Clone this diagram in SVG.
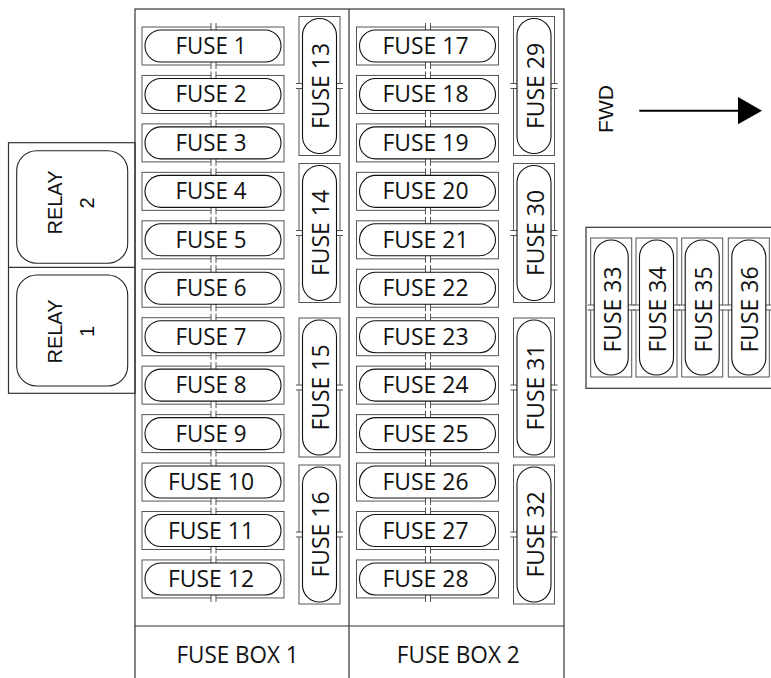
<svg xmlns="http://www.w3.org/2000/svg" xmlns:xlink="http://www.w3.org/1999/xlink" width="771" height="678" viewBox="0 0 771 678">
<style>
.frame{fill:none;stroke:#333;stroke-width:1.2}
.half{fill:#fff;stroke:#555;stroke-width:1}
.tick{stroke:#555;stroke-width:1}
.blade{fill:#fff;stroke:#111;stroke-width:1.1}
.relay{fill:#fff;stroke:#222;stroke-width:1.1}
.ft{font-family:"Open Sans","DejaVu Sans",sans-serif;font-size:24px;fill:#111}
.rt{font-family:"Liberation Sans",Arial,sans-serif;font-size:20px;fill:#111;text-anchor:middle}
.mid{text-anchor:middle}
</style>
<defs>
<g id="hf">
<rect class="half" x="0" y="0" width="69" height="38"/>
<rect class="half" x="74" y="0" width="68" height="38"/>
<path class="tick" d="M69,-4V0M74,-4V0M69,38V42M74,38V42"/>
<rect class="blade" x="3" y="3" width="136" height="32" rx="16"/>
</g>
<g id="vf">
<rect class="half" x="0" y="0" width="41" height="67"/>
<rect class="half" x="0" y="72" width="41" height="67"/>
<path class="tick" d="M-3,67H0M-3,72H0M41,67H44M41,72H44"/>
<rect class="blade" x="3.5" y="2" width="34" height="135" rx="17"/>
</g>
</defs>

<g id="fuse-box-frame">
<rect class="frame" x="135" y="9" width="429" height="680"/>
<line class="frame" x1="349" y1="9" x2="349" y2="690"/>
<line class="frame" x1="135" y1="626" x2="564" y2="626"/>
<text class="ft mid" x="237.5" y="662.5" textLength="122" lengthAdjust="spacingAndGlyphs">FUSE BOX 1</text>
<text class="ft mid" x="458.3" y="662.5" textLength="123" lengthAdjust="spacingAndGlyphs">FUSE BOX 2</text>
</g>

<g id="relays">
<rect class="frame" x="8.5" y="142.7" width="126.5" height="250.6"/>
<line class="frame" x1="8.5" y1="267.3" x2="135" y2="267.3"/>
</g>
<g id="relay-2">
<rect class="relay" x="16.7" y="150.7" width="111" height="112.6" rx="20"/>
<text class="rt" transform="translate(61.5,202.5) rotate(-90)">RELAY</text>
<text class="rt" transform="translate(94,203) rotate(-90)">2</text>
</g>
<g id="relay-1">
<rect class="relay" x="16.7" y="275" width="111" height="111" rx="20"/>
<text class="rt" transform="translate(61.5,331.5) rotate(-90)">RELAY</text>
<text class="rt" transform="translate(94,331.5) rotate(-90)">1</text>
</g>

<g id="fuse-1"><use xlink:href="#hf" x="142" y="27"/><text class="ft mid" x="211" y="54" textLength="71" lengthAdjust="spacingAndGlyphs">FUSE 1</text></g>
<g id="fuse-2"><use xlink:href="#hf" x="142" y="75.45"/><text class="ft mid" x="211" y="102.45" textLength="71" lengthAdjust="spacingAndGlyphs">FUSE 2</text></g>
<g id="fuse-3"><use xlink:href="#hf" x="142" y="123.9"/><text class="ft mid" x="211" y="150.9" textLength="71" lengthAdjust="spacingAndGlyphs">FUSE 3</text></g>
<g id="fuse-4"><use xlink:href="#hf" x="142" y="172.35"/><text class="ft mid" x="211" y="199.35" textLength="71" lengthAdjust="spacingAndGlyphs">FUSE 4</text></g>
<g id="fuse-5"><use xlink:href="#hf" x="142" y="220.8"/><text class="ft mid" x="211" y="247.8" textLength="71" lengthAdjust="spacingAndGlyphs">FUSE 5</text></g>
<g id="fuse-6"><use xlink:href="#hf" x="142" y="269.25"/><text class="ft mid" x="211" y="296.25" textLength="71" lengthAdjust="spacingAndGlyphs">FUSE 6</text></g>
<g id="fuse-7"><use xlink:href="#hf" x="142" y="317.7"/><text class="ft mid" x="211" y="344.7" textLength="71" lengthAdjust="spacingAndGlyphs">FUSE 7</text></g>
<g id="fuse-8"><use xlink:href="#hf" x="142" y="366.15"/><text class="ft mid" x="211" y="393.15" textLength="71" lengthAdjust="spacingAndGlyphs">FUSE 8</text></g>
<g id="fuse-9"><use xlink:href="#hf" x="142" y="414.6"/><text class="ft mid" x="211" y="441.6" textLength="71" lengthAdjust="spacingAndGlyphs">FUSE 9</text></g>
<g id="fuse-10"><use xlink:href="#hf" x="142" y="463.05"/><text class="ft mid" x="211" y="490.05" textLength="86" lengthAdjust="spacingAndGlyphs">FUSE 10</text></g>
<g id="fuse-11"><use xlink:href="#hf" x="142" y="511.5"/><text class="ft mid" x="211" y="538.5" textLength="86" lengthAdjust="spacingAndGlyphs">FUSE 11</text></g>
<g id="fuse-12"><use xlink:href="#hf" x="142" y="559.95"/><text class="ft mid" x="211" y="586.95" textLength="86" lengthAdjust="spacingAndGlyphs">FUSE 12</text></g>

<g id="fuse-13"><use xlink:href="#vf" x="299" y="16.5"/><text class="ft mid" transform="translate(329,86) rotate(-90)" textLength="86" lengthAdjust="spacingAndGlyphs">FUSE 13</text></g>
<g id="fuse-14"><use xlink:href="#vf" x="299" y="163.5"/><text class="ft mid" transform="translate(329,233) rotate(-90)" textLength="86" lengthAdjust="spacingAndGlyphs">FUSE 14</text></g>
<g id="fuse-15"><use xlink:href="#vf" x="299" y="318"/><text class="ft mid" transform="translate(329,387.5) rotate(-90)" textLength="86" lengthAdjust="spacingAndGlyphs">FUSE 15</text></g>
<g id="fuse-16"><use xlink:href="#vf" x="299" y="465"/><text class="ft mid" transform="translate(329,534.5) rotate(-90)" textLength="86" lengthAdjust="spacingAndGlyphs">FUSE 16</text></g>

<g id="fuse-17"><use xlink:href="#hf" x="356.5" y="27"/><text class="ft mid" x="425.5" y="54" textLength="86" lengthAdjust="spacingAndGlyphs">FUSE 17</text></g>
<g id="fuse-18"><use xlink:href="#hf" x="356.5" y="75.45"/><text class="ft mid" x="425.5" y="102.45" textLength="86" lengthAdjust="spacingAndGlyphs">FUSE 18</text></g>
<g id="fuse-19"><use xlink:href="#hf" x="356.5" y="123.9"/><text class="ft mid" x="425.5" y="150.9" textLength="86" lengthAdjust="spacingAndGlyphs">FUSE 19</text></g>
<g id="fuse-20"><use xlink:href="#hf" x="356.5" y="172.35"/><text class="ft mid" x="425.5" y="199.35" textLength="86" lengthAdjust="spacingAndGlyphs">FUSE 20</text></g>
<g id="fuse-21"><use xlink:href="#hf" x="356.5" y="220.8"/><text class="ft mid" x="425.5" y="247.8" textLength="86" lengthAdjust="spacingAndGlyphs">FUSE 21</text></g>
<g id="fuse-22"><use xlink:href="#hf" x="356.5" y="269.25"/><text class="ft mid" x="425.5" y="296.25" textLength="86" lengthAdjust="spacingAndGlyphs">FUSE 22</text></g>
<g id="fuse-23"><use xlink:href="#hf" x="356.5" y="317.7"/><text class="ft mid" x="425.5" y="344.7" textLength="86" lengthAdjust="spacingAndGlyphs">FUSE 23</text></g>
<g id="fuse-24"><use xlink:href="#hf" x="356.5" y="366.15"/><text class="ft mid" x="425.5" y="393.15" textLength="86" lengthAdjust="spacingAndGlyphs">FUSE 24</text></g>
<g id="fuse-25"><use xlink:href="#hf" x="356.5" y="414.6"/><text class="ft mid" x="425.5" y="441.6" textLength="86" lengthAdjust="spacingAndGlyphs">FUSE 25</text></g>
<g id="fuse-26"><use xlink:href="#hf" x="356.5" y="463.05"/><text class="ft mid" x="425.5" y="490.05" textLength="86" lengthAdjust="spacingAndGlyphs">FUSE 26</text></g>
<g id="fuse-27"><use xlink:href="#hf" x="356.5" y="511.5"/><text class="ft mid" x="425.5" y="538.5" textLength="86" lengthAdjust="spacingAndGlyphs">FUSE 27</text></g>
<g id="fuse-28"><use xlink:href="#hf" x="356.5" y="559.95"/><text class="ft mid" x="425.5" y="586.95" textLength="86" lengthAdjust="spacingAndGlyphs">FUSE 28</text></g>

<g id="fuse-29"><use xlink:href="#vf" x="513.5" y="16.5"/><text class="ft mid" transform="translate(543.5,86) rotate(-90)" textLength="86" lengthAdjust="spacingAndGlyphs">FUSE 29</text></g>
<g id="fuse-30"><use xlink:href="#vf" x="513.5" y="163.5"/><text class="ft mid" transform="translate(543.5,233) rotate(-90)" textLength="86" lengthAdjust="spacingAndGlyphs">FUSE 30</text></g>
<g id="fuse-31"><use xlink:href="#vf" x="513.5" y="318"/><text class="ft mid" transform="translate(543.5,387.5) rotate(-90)" textLength="86" lengthAdjust="spacingAndGlyphs">FUSE 31</text></g>
<g id="fuse-32"><use xlink:href="#vf" x="513.5" y="465"/><text class="ft mid" transform="translate(543.5,534.5) rotate(-90)" textLength="86" lengthAdjust="spacingAndGlyphs">FUSE 32</text></g>

<g id="aux-panel">
<rect class="frame" x="586" y="227.3" width="190" height="161"/>
</g>
<g id="fuse-33"><use xlink:href="#vf" x="590.7" y="238"/><text class="ft mid" transform="translate(620.7,309.5) rotate(-90)" textLength="86" lengthAdjust="spacingAndGlyphs">FUSE 33</text></g>
<g id="fuse-34"><use xlink:href="#vf" x="636" y="238"/><text class="ft mid" transform="translate(666,309.5) rotate(-90)" textLength="86" lengthAdjust="spacingAndGlyphs">FUSE 34</text></g>
<g id="fuse-35"><use xlink:href="#vf" x="681.7" y="238"/><text class="ft mid" transform="translate(711.7,309.5) rotate(-90)" textLength="86" lengthAdjust="spacingAndGlyphs">FUSE 35</text></g>
<g id="fuse-36"><use xlink:href="#vf" x="728.3" y="238"/><text class="ft mid" transform="translate(758.3,309.5) rotate(-90)" textLength="86" lengthAdjust="spacingAndGlyphs">FUSE 36</text></g>

<g id="fwd">
<text class="rt" style="font-size:21px" transform="translate(613.3,109) rotate(-90)">FWD</text>
</g>
<g id="connectors">
<line x1="639.3" y1="110.7" x2="740" y2="110.7" stroke="#000" stroke-width="2"/>
<polygon points="738,97 762,110.7 738,124.3" fill="#000"/>
</g>
</svg>
